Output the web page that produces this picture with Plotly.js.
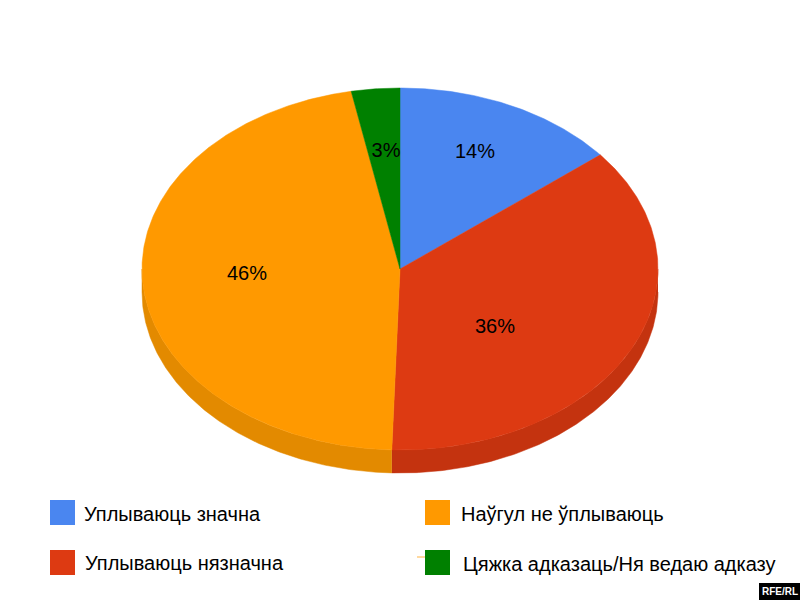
<!DOCTYPE html>
<html>
<head>
<meta charset="utf-8">
<script src="https://cdn.plot.ly/plotly-3.0.1.min.js"></script>
<style>html,body{margin:0;padding:0;background:#fff}#chart{width:800px;height:600px}</style>
</head>
<body>
<div id="chart"></div>
<script>
const categories = ["Уплываюць значна", "Уплываюць нязначна", "Наўгул не ўплываюць", "Цяжка адказаць/Ня ведаю адказу"];
const values = [14, 36, 46, 3];
const colors = ["#4a86f0", "#dd3a12", "#ff9900", "#008000"];
const wallColors = ["#3b6bc0", "#c4330f", "#e38a00", "#006600"];
const labelX = [475, 495, 247, 386];
const labelY = [153, 328, 275, 152];
const legendX = [62.5, 62.5, 437.5, 437.5];
const legendY = [512.5, 562.5, 512.5, 562.5];
const legendTextX = [84, 85, 461, 463];
const legendTextY = [514, 563, 514, 564];

const cx = 400, cy = 269, rx = 258, ry = 181, depth = 23;
const total = values.reduce((a, b) => a + b, 0);
const pt = (deg, dy) => {
  const t = deg * Math.PI / 180;
  return [cx + rx * Math.sin(t), cy - ry * Math.cos(t) + (dy || 0)];
};
const arc = (a, b, dy) => {
  const n = Math.max(2, Math.ceil(Math.abs(b - a) * 2));
  const out = [];
  for (let k = 0; k <= n; k++) out.push(pt(a + (b - a) * k / n, dy));
  return out;
};
const traces = [];
let start = 0;
values.forEach((v, i) => {
  const end = start + v / total * 360;
  // visible outer wall: the part of the slice on the lower half of the ellipse
  const a = Math.max(start, 90), b = Math.min(end, 270);
  if (b > a) {
    const ring = arc(a, b, 0).concat(arc(b, a, depth));
    traces.push({x: ring.map(p => p[0]), y: ring.map(p => p[1]), type: "scatter", mode: "lines", fill: "toself",
      fillcolor: wallColors[i], line: {width: 0.5, color: wallColors[i]}, hoverinfo: "skip", showlegend: false});
  }
  const rim = arc(start, end, 0);
  const xs = [cx].concat(rim.map(p => p[0]), [cx]);
  const ys = [cy].concat(rim.map(p => p[1]), [cy]);
  traces.push({x: xs, y: ys, type: "scatter", mode: "lines", fill: "toself",
    fillcolor: colors[i], line: {width: 0.5, color: colors[i]}, hoverinfo: "skip", showlegend: false});
  start = end;
});
// percent labels
traces.push({x: labelX, y: labelY, type: "scatter", mode: "text",
  text: values.map(v => Math.round(v / total * 100) + "%"), textposition: "middle center",
  textfont: {family: "Liberation Sans", size: 20, color: "#000"}, hoverinfo: "skip", showlegend: false});
// legend swatches
traces.push({x: legendX, y: legendY, type: "scatter", mode: "markers",
  marker: {symbol: "square", size: 25, color: colors, line: {width: 0}}, hoverinfo: "skip", showlegend: false});

const annotations = categories.map((c, i) => ({
  x: legendTextX[i], y: legendTextY[i], xref: "x", yref: "y", text: c, showarrow: false,
  xanchor: "left", yanchor: "middle", xshift: -2,
  font: {family: "Liberation Sans", size: 20, color: "#000"}
}));
annotations.push({x: 779.5, y: 591.5, xref: "x", yref: "y", text: "<b>RFE/RL</b>", showarrow: false,
  xanchor: "center", yanchor: "middle", font: {family: "Liberation Sans", size: 10, color: "#fff"}});

const layout = {
  width: 800, height: 600, margin: {l: 0, r: 0, t: 0, b: 0},
  paper_bgcolor: "#fff", plot_bgcolor: "#fff", showlegend: false,
  xaxis: {range: [0, 800], visible: false, fixedrange: true},
  yaxis: {range: [600, 0], visible: false, fixedrange: true},
  shapes: [
    {type: "rect", xref: "x", yref: "y", x0: 759, x1: 800, y0: 583, y1: 600, fillcolor: "#000", line: {width: 0}},
    {type: "rect", xref: "x", yref: "y", x0: 417, x1: 425, y0: 556, y1: 558, fillcolor: "#ffd9a0", line: {width: 0}}
  ],
  annotations: annotations
};
Plotly.newPlot("chart", traces, layout, {displayModeBar: false, staticPlot: true});
</script>
</body>
</html>
